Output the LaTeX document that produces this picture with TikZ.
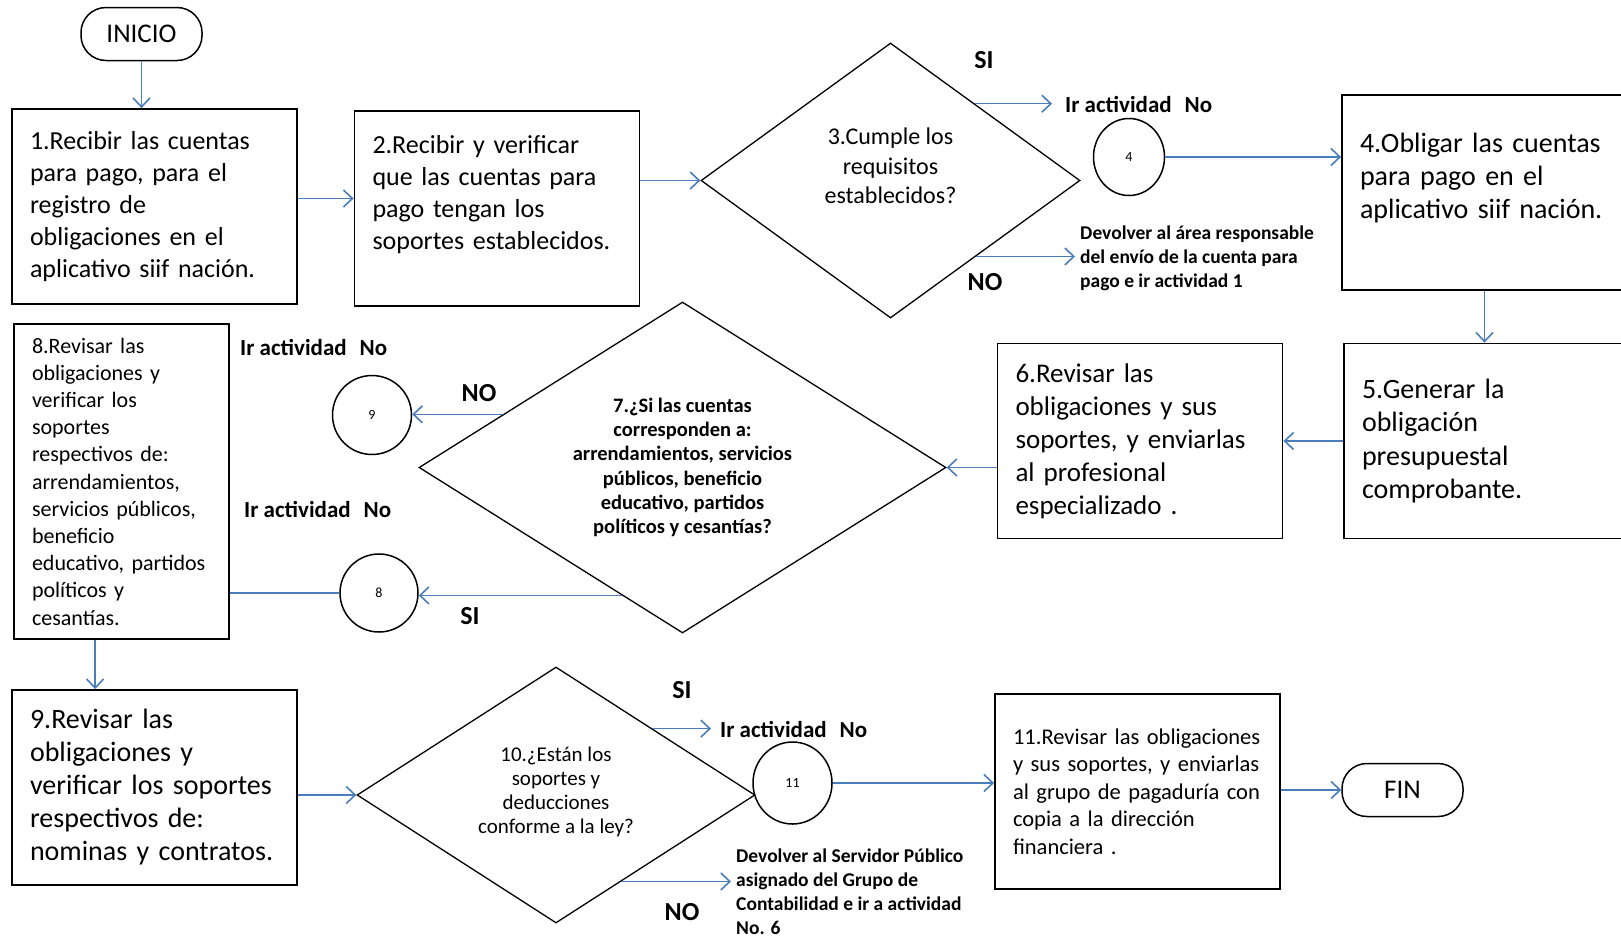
\documentclass[tikz,border=0pt]{standalone}
\usepackage{fontspec}
\setmainfont{Carlito}
\newfontfamily\apretada[WordSpace=0.45]{Carlito}
\usetikzlibrary{shapes.geometric,arrows.meta,calc}
\definecolor{azul}{HTML}{4A7EBB}

\begin{document}
\begin{tikzpicture}[x=1pt,y=-1pt,
  caja/.style={draw, line width=1.8pt, align=left, inner xsep=18pt, text width=249pt, minimum height=195pt},
  rombo/.style={draw, diamond, line width=1.3pt, align=center, inner sep=0pt},
  conector/.style={draw, ellipse, line width=1.5pt, inner sep=0pt, font=\fontsize{14}{16}\selectfont},
  terminal/.style={draw, rounded corners=25pt, line width=1.5pt, minimum width=121pt, minimum height=53pt, font=\fontsize{27}{32}\selectfont},
  flecha/.style={azul, line width=1.6pt, arrows={-Straight Barb[length=9pt,width=17pt]}},
  enlace/.style={azul, line width=1.6pt},
  etiqueta/.style={font=\fontsize{26}{30}\selectfont\bfseries, inner sep=0pt},
  aviso/.style={font=\fontsize{23}{28}\selectfont\bfseries, inner sep=0pt, anchor=west},
  nota/.style={font=\fontsize{19.5}{24}\selectfont\bfseries, align=left, inner sep=0pt, anchor=west}]
\useasboundingbox (0,0) rectangle (1621,937);

\node[terminal] (inicio) at (141.5,34) {INICIO};
\node[caja, font=\fontsize{26}{32}\selectfont] (act1) at (154.5,206.5)
  {1.Recibir las cuentas\\para pago, para el\\registro de\\obligaciones en el\\aplicativo siif nación.};
\node[caja, font=\fontsize{26}{32}\selectfont] (act2) at (497,208.5)
  {2.Recibir y verificar\\que las cuentas para\\pago tengan los\\soportes establecidos.\\ \mbox{}};
\node[rombo, aspect=1.38, minimum width=379pt, minimum height=275pt, font=\fontsize{24}{29.5}\selectfont] (dec3) at (890.5,180.5)
  {3.Cumple los\\requisitos\\establecidos?\\ \mbox{}};
\node[conector, minimum width=71pt, minimum height=77pt] (con4) at (1129,157) {4};
\node[caja, font=\fontsize{28}{33}\selectfont] (act4) at (1484.5,192.5)
  {4.Obligar las cuentas\\para pago en el\\aplicativo siif nación.\\ \mbox{}};
\node[caja, font=\fontsize{28}{33.4}\selectfont] (act5) at (1486.5,441)
  {5.Generar la\\obligación\\presupuestal\\comprobante.};
\node[caja, font=\fontsize{27}{33}\selectfont] (act6) at (1140,441)
  {6.Revisar las\\obligaciones y sus\\soportes, y enviarlas\\al profesional\\especializado .};
\node[rombo, aspect=1.6, minimum width=527pt, minimum height=331pt, font=\fontsize{20.5}{24.2}\selectfont\bfseries] (dec7) at (682.5,467.5)
  {7.¿Si las cuentas\\corresponden a:\\arrendamientos, servicios\\públicos, beneficio\\educativo, partidos\\políticos y cesantías?};
\node[conector, minimum width=79pt, minimum height=79pt] (con9) at (372,415) {9};
\node[conector, minimum width=78pt, minimum height=78pt] (con8) at (379,593) {8};
\node[caja, text width=179pt, minimum height=315pt, font=\apretada\fontsize{22}{27.2}\selectfont] (act8) at (121.5,481.5)
  {8.Revisar las\\obligaciones y\\verificar los\\soportes\\respectivos de:\\arrendamientos,\\servicios públicos,\\beneficio\\educativo, partidos\\políticos y\\cesantías.};
\node[caja, font=\fontsize{28}{33}\selectfont] (act9) at (154.5,787.5)
  {9.Revisar las\\obligaciones y\\verificar los soportes\\respectivos de:\\nominas y contratos.};
\node[rombo, aspect=1.55, minimum width=398pt, minimum height=256pt, font=\fontsize{21}{24}\selectfont] (dec10) at (556,795)
  {10.¿Están los\\soportes y\\deducciones\\conforme a la ley?\\[-14pt]\mbox{}};
\node[conector, minimum width=79pt, minimum height=82pt] (con11) at (792.5,783) {11};
\node[caja, font=\apretada\fontsize{22.5}{27.4}\selectfont] (act11) at (1137.5,791.5)
  {11.Revisar las obligaciones\\y sus soportes, y enviarlas\\al grupo de pagaduría con\\copia a la dirección\\financiera .};
\node[terminal] (fin) at (1402.5,790) {FIN};

\node[etiqueta] (si3) at (984,60) {SI};
\node[etiqueta] (no3) at (985,282) {NO};
\node[aviso] (ir4) at (1065,104) {Ir actividad\hspace{13pt}No};
\node[nota] (dev1) at (1080,258.5) {Devolver al área responsable\\del envío de la cuenta para\\pago e ir actividad 1};
\node[etiqueta] (no7) at (479,393) {NO};
\node[etiqueta] (si7) at (470,616) {SI};
\node[aviso] (ir9) at (240,347) {Ir actividad\hspace{13pt}No};
\node[aviso] (ir8) at (244,509) {Ir actividad\hspace{13pt}No};
\node[etiqueta] (si10) at (682,690) {SI};
\node[etiqueta] (no10) at (682,912) {NO};
\node[aviso] (ir11) at (720,729) {Ir actividad\hspace{13pt}No};
\node[nota] (dev6) at (736,892) {Devolver al Servidor Público\\asignado del Grupo de\\Contabilidad e ir a actividad\\No. 6};

\coordinate (dec3si) at ($(dec3.north)!0.444!(dec3.east)$);
\coordinate (dec3no) at ($(dec3.south)!0.45!(dec3.east)$);
\coordinate (dec7no) at ($(dec7.west)!0.32!(dec7.north)$);
\coordinate (dec7si) at ($(dec7.west)!0.77!(dec7.south)$);
\coordinate (dec10si) at ($(dec10.north)!0.484!(dec10.east)$);
\coordinate (dec10no) at ($(dec10.south)!0.328!(dec10.east)$);
\coordinate (sal8) at ([xshift=82pt]act8.south west);

\draw[flecha] (inicio.south) -- (inicio.south |- act1.north);
\draw[flecha] ([yshift=8pt]act1.east) -- ([yshift=8pt]act1.east -| act2.west);
\draw[flecha] (dec3.west -| act2.east) -- (dec3.west);
\draw[flecha, shorten >=13pt] (dec3si) -- (dec3si -| ir4.west);
\draw[flecha, shorten >=5pt] (dec3no) -- (dec3no -| dev1.west);
\draw[flecha] (con4.east) -- (con4.east -| act4.west);
\draw[flecha] (act4.south) -- (act4.south |- act5.north);
\draw[flecha] (act5.west) -- (act5.west -| act6.east);
\draw[flecha] (dec7.east -| act6.west) -- (dec7.east);
\draw[flecha] (dec7no) -- (dec7no -| con9.east);
\draw[flecha] (dec7si) -- (dec7si -| con8.east);
\draw[enlace] (con8.west) -- (con8.west -| act8.east);
\draw[flecha] (sal8) -- (sal8 |- act9.north);
\draw[flecha] (dec10.west -| act9.east) -- (dec10.west);
\draw[flecha, shorten >=9pt] (dec10si) -- (dec10si -| ir11.west);
\draw[flecha, shorten >=5pt] (dec10no) -- (dec10no -| dev6.west);
\draw[flecha] (con11.east) -- (con11.east -| act11.west);
\draw[flecha] (fin.west -| act11.east) -- (fin.west);
\end{tikzpicture}
\end{document}
